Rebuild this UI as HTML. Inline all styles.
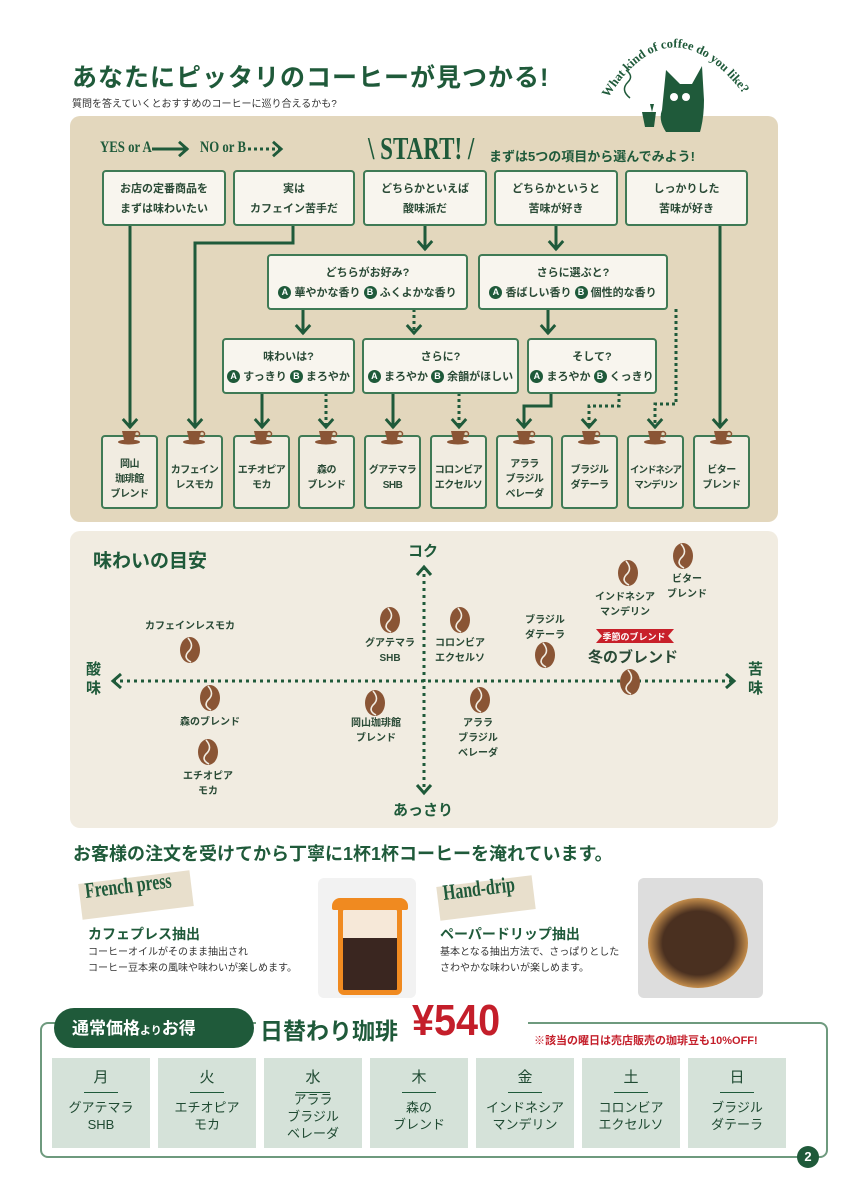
<!DOCTYPE html>
<html><head><meta charset="utf-8"><style>
*{margin:0;padding:0;box-sizing:border-box}
body{width:850px;height:1200px;background:#fff;position:relative;overflow:hidden;font-family:"Liberation Sans","Noto Sans CJK JP",sans-serif;color:#1f5a3a}
.a{position:absolute}
.box{position:absolute;background:#f8f5ee;border:2px solid #3f7a55;border-radius:4px;text-align:center;font-size:11px;font-weight:bold;line-height:20px;color:#2a4a36}
.c{display:inline-block;width:13px;height:13px;border-radius:50%;background:#1f5a3a;color:#fff;font-size:9px;line-height:13px;vertical-align:1px}
.res{position:absolute;top:435px;width:57px;height:74px;background:#f1ece1;border:2px solid #3f7a55;border-radius:4px;text-align:center;font-size:10px;font-weight:bold;line-height:15px;color:#2a4a36;padding-top:20px;letter-spacing:-0.5px;white-space:nowrap}
.lbl{position:absolute;font-size:10px;font-weight:bold;color:#2a4a36;text-align:center;line-height:15px;transform:translateX(-50%);white-space:nowrap}
.day{position:absolute;top:1058px;width:98px;height:90px;background:#d5e2d9;text-align:center;color:#1f4a32}
.day b{display:block;font-size:15px;font-weight:normal;margin-top:10px;line-height:20px}
.day i{display:block;width:34px;height:1px;background:#1f5a3a;margin:4px auto 6px}
.day span{font-size:13px;line-height:17px;display:block}
</style></head><body>

<div class="a" style="left:72px;top:58px;font-size:25px;font-weight:bold;letter-spacing:1px;color:#1f5a3a">あなたにピッタリのコーヒーが見つかる!</div>
<div class="a" style="left:72px;top:95px;font-size:10px;color:#333">質問を答えていくとおすすめのコーヒーに巡り合えるかも?</div>

<div class="a" style="left:70px;top:116px;width:708px;height:406px;background:#e3d7bd;border-radius:10px"></div>

<svg class="a" style="left:590px;top:20px;z-index:2" width="180" height="115" viewBox="0 0 180 115">
<path id="arc" d="M18 78 Q 80 -20 152 72" fill="none"/>
<text font-family="Liberation Serif,serif" font-size="12.5" font-weight="bold" fill="#1f5a3a"><textPath href="#arc">What kind of coffee do you like?</textPath></text>
<path d="M72 90 L76 50 L90 64 L102 64 L112 46 L114 80 Q114 98 110 112 L76 112 Q68 100 72 90Z" fill="#1f5a3a"/>
<circle cx="84" cy="77" r="4" fill="#fff"/><circle cx="96" cy="77" r="4" fill="#fff"/>
<path d="M52 92 L66 92 L64 107 L55 107Z" fill="#1f5a3a"/>
<path d="M62 92 L60 84 L64 84Z" fill="#1f5a3a"/>
<path d="M40 78 Q30 70 38 62 Q44 56 36 50" stroke="#1f5a3a" fill="none" stroke-width="1.5"/>
</svg>

<div class="a" style="left:100px;top:139px;font-family:'Liberation Serif',serif;font-size:16px;font-weight:bold;transform:scaleX(.8);transform-origin:left;white-space:nowrap">YES or A</div>
<div class="a" style="left:200px;top:139px;font-family:'Liberation Serif',serif;font-size:16px;font-weight:bold;transform:scaleX(.8);transform-origin:left;white-space:nowrap">NO or B</div>
<div class="a" style="left:368px;top:130px;font-size:32px;color:#1f5a3a;font-family:'Liberation Serif',serif;font-weight:bold;transform:scaleX(.72);transform-origin:left;white-space:nowrap">\ START! /</div>
<div class="a" style="left:489px;top:146px;font-size:13px;font-weight:bold">まずは5つの項目から選んでみよう!</div>

<svg class="a" style="left:0;top:0" width="850" height="530">
<defs>
<marker id="h" markerUnits="userSpaceOnUse" viewBox="0 0 14 20" refX="12" refY="10" markerWidth="13" markerHeight="18" orient="auto"><path d="M2 2 L11 10 L2 18" fill="none" stroke="#1f5a3a" stroke-width="3.2"/></marker>
</defs>
<g stroke="#1f5a3a" stroke-width="3" fill="none">
<path d="M152 149 H188" marker-end="url(#h)"/>
<path d="M248 149 H282" stroke-dasharray="3 3" marker-end="url(#h)"/>
</g>
<g stroke="#1f5a3a" stroke-width="3" fill="none" marker-end="url(#h)">
<path d="M130 225 V428"/>
<path d="M293 225 V243 H195 V428"/>
<path d="M425 225 V250"/>
<path d="M556 225 V250"/>
<path d="M720 225 V428"/>
<path d="M303 309 V334"/>
<path d="M548 309 V334"/>
<path d="M262 393 V428"/>
<path d="M393 393 V428"/>
<path d="M551 393 V406 H524 V428"/>
</g>
<g stroke="#1f5a3a" stroke-width="3" fill="none" stroke-dasharray="3 3" marker-end="url(#h)">
<path d="M414 309 V334"/>
<path d="M676 309 V404 H655 V428"/>
<path d="M326 393 V428"/>
<path d="M459 393 V428"/>
<path d="M619 393 V406 H589 V428"/>
</g>
</svg>

<div class="box" style="left:102px;top:170px;width:124px;height:56px;padding-top:7px">お店の定番商品を<br>まずは味わいたい</div>
<div class="box" style="left:233px;top:170px;width:122px;height:56px;padding-top:7px">実は<br>カフェイン苦手だ</div>
<div class="box" style="left:363px;top:170px;width:124px;height:56px;padding-top:7px">どちらかといえば<br>酸味派だ</div>
<div class="box" style="left:494px;top:170px;width:124px;height:56px;padding-top:7px">どちらかというと<br>苦味が好き</div>
<div class="box" style="left:625px;top:170px;width:123px;height:56px;padding-top:7px">しっかりした<br>苦味が好き</div>

<div class="box" style="left:267px;top:254px;width:201px;height:56px;padding-top:7px">どちらがお好み?<br><span class="c">A</span> 華やかな香り <span class="c">B</span> ふくよかな香り</div>
<div class="box" style="left:478px;top:254px;width:190px;height:56px;padding-top:7px">さらに選ぶと?<br><span class="c">A</span> 香ばしい香り <span class="c">B</span> 個性的な香り</div>

<div class="box" style="left:222px;top:338px;width:133px;height:56px;padding-top:7px">味わいは?<br><span class="c">A</span> すっきり <span class="c">B</span> まろやか</div>
<div class="box" style="left:362px;top:338px;width:157px;height:56px;padding-top:7px">さらに?<br><span class="c">A</span> まろやか <span class="c">B</span> 余韻がほしい</div>
<div class="box" style="left:527px;top:338px;width:130px;height:56px;padding-top:7px">そして?<br><span class="c">A</span> まろやか <span class="c">B</span> くっきり</div>

<div class="res" style="left:101px">岡山<br>珈琲館<br>ブレンド</div>
<div class="res" style="left:166px;padding-top:26px">カフェイン<br>レスモカ</div>
<div class="res" style="left:233px;padding-top:26px">エチオピア<br>モカ</div>
<div class="res" style="left:298px;padding-top:26px">森の<br>ブレンド</div>
<div class="res" style="left:364px;padding-top:26px">グアテマラ<br>SHB</div>
<div class="res" style="left:430px;padding-top:26px">コロンビア<br>エクセルソ</div>
<div class="res" style="left:496px">アララ<br>ブラジル<br>ベレーダ</div>
<div class="res" style="left:561px;padding-top:26px">ブラジル<br>ダテーラ</div>
<div class="res" style="left:627px;padding-top:26px;font-size:9.5px;letter-spacing:-1px">インドネシア<br>マンデリン</div>
<div class="res" style="left:693px;padding-top:26px">ビター<br>ブレンド</div>
<svg class="a" style="left:0;top:428px" width="850" height="20">
<g fill="#8a5535">
<g id="cup"><ellipse cx="129" cy="14" rx="11" ry="2.5"/><path d="M122 3 H136 L134 12 H124Z"/><circle cx="137" cy="6" r="2.5" fill="none" stroke="#8a5535" stroke-width="1.5"/></g>
<use href="#cup" x="65"/><use href="#cup" x="132"/><use href="#cup" x="197"/><use href="#cup" x="263"/><use href="#cup" x="329"/><use href="#cup" x="395"/><use href="#cup" x="460"/><use href="#cup" x="526"/><use href="#cup" x="592"/>
</g></svg>

<div class="a" style="left:70px;top:531px;width:708px;height:297px;background:#f1ece1;border-radius:10px"></div>
<div class="a" style="left:93px;top:546px;font-size:19px;font-weight:bold">味わいの目安</div>
<svg class="a" style="left:0;top:531px" width="850" height="300">
<g stroke="#1f5a3a" stroke-width="3" fill="none">
<path d="M113 150 H734" stroke-dasharray="3 4"/>
<path d="M424 36 V262" stroke-dasharray="3 4"/>
<path d="M121 143 L113 150 L121 157 M726 143 L734 150 L726 157 M417 44 L424 36 L431 44 M417 254 L424 262 L431 254"/>
</g>
<defs><g id="bean"><ellipse cx="0" cy="0" rx="10" ry="13" fill="#8a5535"/><path d="M-2 -12 Q5 -4 -2 2 Q-7 8 1 12" stroke="#f1ece1" stroke-width="1.6" fill="none"/></g></defs>
<use href="#bean" x="190" y="119"/><use href="#bean" x="210" y="167"/><use href="#bean" x="208" y="221"/>
<use href="#bean" x="390" y="89"/><use href="#bean" x="460" y="89"/><use href="#bean" x="375" y="172"/>
<use href="#bean" x="480" y="169"/><use href="#bean" x="545" y="124"/><use href="#bean" x="628" y="42"/>
<use href="#bean" x="683" y="25"/><use href="#bean" x="630" y="151"/>
<path d="M596 98 H674 L668 105 L674 112 H596 L602 105Z" fill="#c8202a"/>
</svg>
<div class="a" style="left:408px;top:540px;font-size:15px;font-weight:bold">コク</div>
<div class="a" style="left:393px;top:799px;font-size:15px;font-weight:bold">あっさり</div>
<div class="a" style="left:86px;top:660px;font-size:15px;font-weight:bold;line-height:19px">酸<br>味</div>
<div class="a" style="left:748px;top:660px;font-size:15px;font-weight:bold;line-height:19px">苦<br>味</div>
<div class="lbl" style="left:190px;top:619px">カフェインレスモカ</div>
<div class="lbl" style="left:210px;top:715px">森のブレンド</div>
<div class="lbl" style="left:208px;top:769px">エチオピア<br>モカ</div>
<div class="lbl" style="left:390px;top:636px">グアテマラ<br>SHB</div>
<div class="lbl" style="left:460px;top:636px">コロンビア<br>エクセルソ</div>
<div class="lbl" style="left:376px;top:716px">岡山珈琲館<br>ブレンド</div>
<div class="lbl" style="left:478px;top:716px">アララ<br>ブラジル<br>ベレーダ</div>
<div class="lbl" style="left:545px;top:613px">ブラジル<br>ダテーラ</div>
<div class="lbl" style="left:625px;top:590px">インドネシア<br>マンデリン</div>
<div class="lbl" style="left:687px;top:572px">ビター<br>ブレンド</div>
<div class="lbl" style="left:634px;top:630px;color:#fff;font-size:9px">季節のブレンド</div>
<div class="lbl" style="left:633px;top:648px;font-size:15px;line-height:20px">冬のブレンド</div>

<div class="a" style="left:73px;top:840px;font-size:18px;font-weight:bold">お客様の注文を受けてから丁寧に1杯1杯コーヒーを淹れています。</div>

<div class="a" style="left:80px;top:877px;width:112px;height:36px;background:#e8dfcc;transform:rotate(-7deg)"></div>
<div class="a" style="left:85px;top:878px;font-family:'Liberation Serif',serif;font-size:22px;font-weight:bold;transform:rotate(-7deg) scaleX(.72);transform-origin:left;white-space:nowrap">French press</div>
<div class="a" style="left:88px;top:924px;font-size:14px;font-weight:bold">カフェプレス抽出</div>
<div class="a" style="left:88px;top:945px;font-size:10px;color:#333;line-height:16px">コーヒーオイルがそのまま抽出され<br>コーヒー豆本来の風味や味わいが楽しめます。</div>
<div class="a" style="left:318px;top:878px;width:98px;height:120px;background:#f2f2f2;border-radius:6px"></div>
<div class="a" style="left:338px;top:905px;width:64px;height:90px;border:5px solid #f08a20;border-radius:6px;background:linear-gradient(#f6e8d8 0 35%,#3a2620 35%)"></div>
<div class="a" style="left:332px;top:898px;width:76px;height:12px;background:#f08a20;border-radius:8px 8px 2px 2px"></div>

<div class="a" style="left:438px;top:881px;width:96px;height:34px;background:#e8dfcc;transform:rotate(-7deg)"></div>
<div class="a" style="left:443px;top:880px;font-family:'Liberation Serif',serif;font-size:22px;font-weight:bold;transform:rotate(-7deg) scaleX(.72);transform-origin:left;white-space:nowrap">Hand-drip</div>
<div class="a" style="left:440px;top:924px;font-size:14px;font-weight:bold">ペーパードリップ抽出</div>
<div class="a" style="left:440px;top:945px;font-size:10px;color:#333;line-height:16px">基本となる抽出方法で、さっぱりとした<br>さわやかな味わいが楽しめます。</div>
<div class="a" style="left:638px;top:878px;width:125px;height:120px;background:#ddd;border-radius:6px;overflow:hidden"><div style="position:absolute;left:10px;top:20px;width:100px;height:90px;border-radius:50%;background:radial-gradient(#4a3020 50%,#c08a4a 70%,#e8c890)"></div></div>

<div class="a" style="left:40px;top:1022px;width:788px;height:136px;border:2px solid #6e9a7e;border-radius:8px"></div>
<div class="a" style="left:54px;top:1008px;width:200px;height:40px;background:#1f5a3a;border-radius:22px"></div>
<div class="a" style="left:72px;top:1014px;font-size:17px;font-weight:bold;color:#fff">通常価格<span style="font-size:11px">より</span>お得</div>
<div class="a" style="left:256px;top:1016px;width:272px;height:20px;background:#fff"></div>
<div class="a" style="left:260px;top:1012px;font-size:23px;font-weight:bold;color:#1f5a3a">日替わり珈琲</div>
<div class="a" style="left:412px;top:996px;font-size:44px;font-weight:bold;color:#c41e2a;transform:scaleX(.9);transform-origin:left">¥540</div>
<div class="a" style="left:534px;top:1032px;font-size:11px;font-weight:bold;color:#c41e2a">※該当の曜日は売店販売の珈琲豆も10%OFF!</div>
<div class="day" style="left:52px"><b>月</b><i></i><span>グアテマラ<br>SHB</span></div>
<div class="day" style="left:158px"><b>火</b><i></i><span>エチオピア<br>モカ</span></div>
<div class="day" style="left:264px"><b>水</b><i></i><span style="margin-top:-8px">アララ<br>ブラジル<br>ベレーダ</span></div>
<div class="day" style="left:370px"><b>木</b><i></i><span>森の<br>ブレンド</span></div>
<div class="day" style="left:476px"><b>金</b><i></i><span>インドネシア<br>マンデリン</span></div>
<div class="day" style="left:582px"><b>土</b><i></i><span>コロンビア<br>エクセルソ</span></div>
<div class="day" style="left:688px"><b>日</b><i></i><span>ブラジル<br>ダテーラ</span></div>
<div class="a" style="left:797px;top:1146px;width:22px;height:22px;border-radius:50%;background:#1f5a3a;color:#fff;font-size:13px;font-weight:bold;text-align:center;line-height:22px">2</div>
</body></html>
